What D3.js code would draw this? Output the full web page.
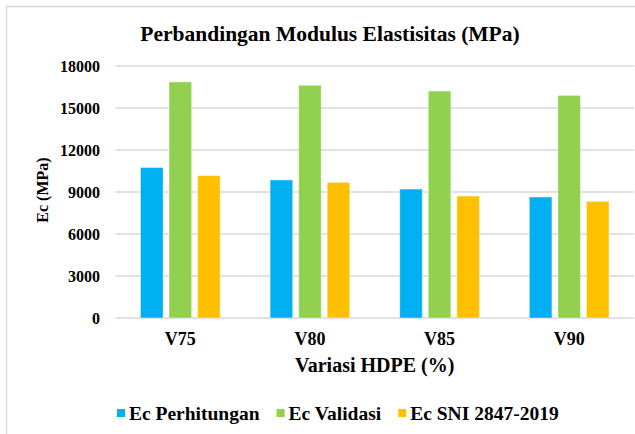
<!DOCTYPE html>
<html>
<head>
<meta charset="utf-8">
<script src="https://cdn.jsdelivr.net/npm/d3@7"></script>
<style>
  body { margin: 0; background: #fff; }
  svg text { font-family: "Liberation Serif", "Times New Roman", serif !important; font-weight: bold; fill: #000; }
</style>
</head>
<body>
<script>
const categories = ["V75", "V80", "V85", "V90"];
const seriesNames = ["Ec Perhitungan", "Ec Validasi", "Ec SNI 2847-2019"];
const perhitungan = [10750, 9860, 9210, 8640];
const validasi = [16860, 16620, 16210, 15900];
const sni = [10170, 9690, 8710, 8330];
const yTicks = [0, 3000, 6000, 9000, 12000, 15000, 18000];
const colors = ["#00b0f0", "#92d050", "#ffc000"];

const width = 635;
const height = 434;

const seriesValues = [perhitungan, validasi, sni];
const data = categories.map((c, i) => ({
  cat: c,
  values: seriesNames.map((s, j) => ({ series: s, value: seriesValues[j][i] }))
}));

const svg = d3
  .select("body")
  .append("svg")
  .attr("width", width)
  .attr("height", height);

// chart frame (runs off the right / bottom edge like the picture)
svg
  .append("rect")
  .attr("x", 6.5)
  .attr("y", 6.5)
  .attr("width", width + 10)
  .attr("height", height + 10)
  .attr("fill", "none")
  .attr("stroke", "#d9d9d9")
  .attr("stroke-width", 1.5);

const plotLeft = 115.5;
const plotRight = 634;

const y = d3.scaleLinear().domain([0, 18000]).range([318, 66]);

const x0 = d3.scaleBand().domain(categories).range([plotLeft, plotRight]);

const x1 = d3
  .scaleBand()
  .domain(seriesNames)
  .range([25, x0.bandwidth() - 25])
  .paddingInner(0.21);

const color = d3.scaleOrdinal().domain(seriesNames).range(colors);

svg
  .append("text")
  .text("Perbandingan Modulus Elastisitas (MPa)")
  .attr("x", 330)
  .attr("y", 41)
  .style("font-size", "21.5px")
  .attr("text-anchor", "middle");

// gridlines
svg
  .append("g")
  .selectAll("line")
  .data(yTicks)
  .enter()
  .append("line")
  .attr("x1", plotLeft)
  .attr("x2", plotRight)
  .attr("y1", (d) => y(d))
  .attr("y2", (d) => y(d))
  .attr("stroke", "#d9d9d9")
  .attr("stroke-width", 1.5);

const yAxis = svg
  .append("g")
  .attr("transform", "translate(104,0)")
  .call(d3.axisLeft(y).tickValues(yTicks).tickSize(0).tickPadding(4).tickFormat(d3.format("d")));
yAxis.select(".domain").remove();
yAxis.selectAll("text").style("font-size", "16px");

const groups = svg
  .append("g")
  .selectAll("g")
  .data(data)
  .enter()
  .append("g")
  .attr("transform", (d) => `translate(${x0(d.cat)},0)`);

groups
  .selectAll("rect")
  .data((d) => d.values)
  .enter()
  .append("rect")
  .attr("x", (d) => x1(d.series))
  .attr("width", x1.bandwidth())
  .attr("y", (d) => y(d.value))
  .attr("height", (d) => y(0) - y(d.value))
  .attr("fill", (d) => color(d.series))
  .attr("stroke", "#fff")
  .attr("stroke-opacity", 0.4)
  .attr("stroke-width", 1);

const xAxis = svg
  .append("g")
  .attr("transform", "translate(0,318)")
  .call(d3.axisBottom(x0).tickSize(0).tickPadding(14));
xAxis.select(".domain").remove();
xAxis.selectAll("text").style("font-size", "18px");

svg
  .append("text")
  .text("Variasi HDPE (%)")
  .attr("x", (plotLeft + plotRight) / 2)
  .attr("y", 372)
  .style("font-size", "20px")
  .attr("text-anchor", "middle");

svg
  .append("text")
  .text("Ec (MPa)")
  .attr("transform", "translate(48,190) rotate(-90)")
  .style("font-size", "16px")
  .attr("text-anchor", "middle");

// legend
const legend = svg.append("g").attr("transform", "translate(117,420)");
let lx = 0;
seriesNames.forEach((s) => {
  legend
    .append("rect")
    .attr("x", lx)
    .attr("y", -11)
    .attr("width", 8)
    .attr("height", 8)
    .attr("fill", color(s));
  const t = legend
    .append("text")
    .text(s)
    .attr("x", lx + 12)
    .attr("y", 0)
    .style("font-size", "19.5px");
  lx += 12 + t.node().getComputedTextLength() + 17;
});
</script>
</body>
</html>
